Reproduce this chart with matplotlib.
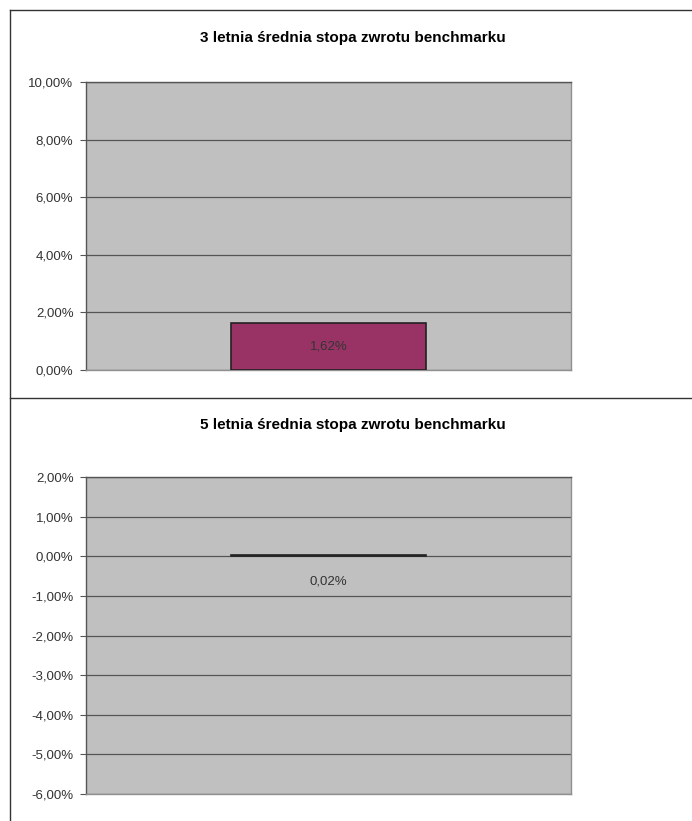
import matplotlib
matplotlib.use('Agg')
import matplotlib.pyplot as plt
from matplotlib.lines import Line2D
from matplotlib.ticker import FuncFormatter

plt.rcParams['font.family'] = ['Liberation Sans', 'DejaVu Sans']

# dane
tytul_3 = '3 letnia średnia stopa zwrotu benchmarku'
tytul_5 = '5 letnia średnia stopa zwrotu benchmarku'
wartosc_3 = [1.62]
wartosc_5 = [0.02]
ticki_3 = [0, 2, 4, 6, 8, 10]
ticki_5 = [-6, -5, -4, -3, -2, -1, 0, 1, 2]

W, H = 692, 821
fig = plt.figure(figsize=(W / 100, H / 100), dpi=100)

def px(x0, y0, x1, y1):
    return [x0 / W, 1 - y1 / H, (x1 - x0) / W, (y1 - y0) / H]

fmt = FuncFormatter(lambda v, p: ('%.2f' % v).replace('.', ',') + '%')

def wykres(rect, wart, ticki, kolor, tytul, ty, ylab):
    ax = fig.add_axes(rect)
    ax.set_facecolor('#c0c0c0')
    ax.bar([0], wart, width=0.402, color=kolor, edgecolor='#222222', linewidth=1.2, zorder=3)
    ax.set_xlim(-0.5, 0.5)
    ax.set_ylim(ticki[0], ticki[-1])
    ax.set_yticks(ticki)
    ax.yaxis.set_major_formatter(fmt)
    ax.set_xticks([])
    ax.grid(axis='y', color='#555555', linewidth=0.9, zorder=1)
    ax.tick_params(axis='y', length=4, width=0.8, color='#555555', labelsize=9.5, labelcolor='#333333', pad=5)
    ax.spines['left'].set_color('#555555')
    ax.spines['bottom'].set_color('#909090')
    ax.spines['right'].set_color('#909090')
    ax.spines['top'].set_color('#555555')
    for s in ax.spines.values():
        s.set_linewidth(1.0)
    lab = ('%.2f' % wart[0]).replace('.', ',') + '%'
    ax.text(0, ylab, lab, ha='center', va='center', fontsize=9.5, color='#333333', zorder=4)
    fig.text(353 / W, 1 - ty / H, tytul, ha='center', va='center', fontsize=11, fontweight='bold')
    return ax

wykres(px(86, 82, 571, 370), wartosc_3, ticki_3, '#993366', tytul_3, 38, wartosc_3[0] / 2)
wykres(px(86, 477, 571, 794), wartosc_5, ticki_5, '#993366', tytul_5, 425, -0.63)

# ramki
fig.add_artist(Line2D([10 / W, 1], [1 - 10 / H] * 2, color='#333333', linewidth=1))
fig.add_artist(Line2D([10 / W] * 2, [1 - 10 / H, 0], color='#333333', linewidth=1))
fig.add_artist(Line2D([10 / W, 1], [1 - 398 / H] * 2, color='#333333', linewidth=1))

fig.savefig('out.png', dpi=100)
